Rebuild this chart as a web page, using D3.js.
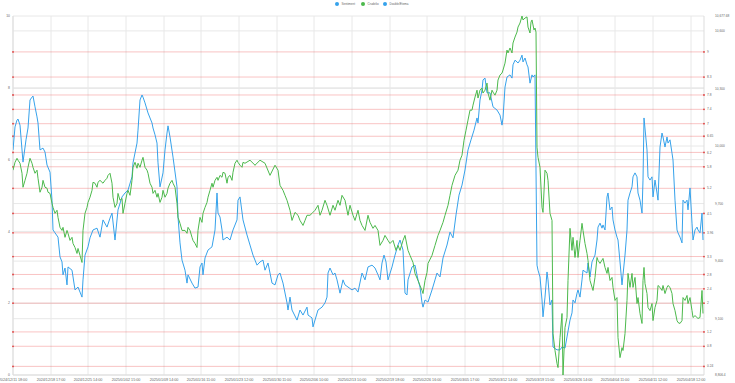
<!DOCTYPE html>
<html><head><meta charset="utf-8">
<script src="https://cdn.jsdelivr.net/npm/d3@7"></script>
<style>body{margin:0;background:#fff}svg{display:block;font-family:"Liberation Sans",Arial,sans-serif}</style>
</head><body><svg id="c" width="735" height="383"></svg>
<script>
const seriesNames = ["Sentiment", "Crudelio", "Double/Etema"];
const seriesColors = ["rgb(54,162,235)", "rgb(76,185,76)", "rgb(54,162,235)"];
const tickIdx = [0,38,75,113,151,188,226,264,301,339,377,414,452,490,527,565,602,640,678];
const tickLabels = ["2024/12/11 18:00","2024/12/18 17:00","2024/12/25 14:00","2025/01/02 15:00","2025/01/09 14:00","2025/01/16 11:00","2025/01/23 12:00","2025/01/30 11:00","2025/02/06 10:00","2025/02/13 10:00","2025/02/19 18:00","2025/02/26 16:00","2025/03/05 17:00","2025/03/12 14:00","2025/03/19 15:00","2025/03/26 14:00","2025/04/04 11:00","2025/04/11 12:00","2025/04/18 12:00"];
const leftTicks = [0,2,4,6,8,10];
const rightTicks = [9100,9400,9700,10000,10300,10600];
const rightMin = 8806.4, rightMax = 10677.68;
const rightEndLabels = ["8,806.4","10,677.68"];
const levels = [9,8.3,7.8,7.4,7,6.65,6.2,5.8,5.2,4.5,3.96,3.3,2.8,2.4,2,1.2,0.8,0.24];
const lastIdx = 691;

const sentiment = [[0,6.27],[2,6.91],[4,7.10],[5,7.13],[7,6.96],[10,5.93],[13,6.55],[15,6.88],[17,7.66],[19,7.74],[20,7.77],[22,7.47],[24,7.19],[25,7.02],[27,6.27],[30,6.32],[32,6.21],[34,5.85],[37,5.65],[39,4.87],[40,4.04],[42,3.96],[45,3.84],[47,3.29],[49,3.15],[50,2.79],[52,2.98],[54,2.51],[55,3.01],[59,2.92],[62,2.37],[65,2.45],[67,2.31],[69,2.17],[70,2.65],[72,3.34],[75,3.57],[77,3.82],[80,4.04],[84,4.09],[87,3.84],[90,4.32],[94,4.12],[97,4.37],[99,4.51],[102,3.76],[105,4.60],[109,4.96],[112,5.07],[115,5.15],[119,5.52],[120,5.91],[124,6.46],[125,6.82],[127,7.66],[129,7.80],[130,7.74],[132,7.58],[135,7.30],[139,7.02],[140,6.88],[142,6.69],[144,6.46],[145,5.91],[147,5.24],[150,5.63],[152,6.27],[154,6.74],[155,6.94],[157,6.63],[160,6.07],[164,5.24],[165,4.40],[167,3.68],[169,3.20],[172,2.92],[174,2.56],[175,2.79],[179,2.56],[182,2.42],[185,2.45],[187,3.01],[189,3.12],[190,2.79],[192,3.26],[195,3.48],[199,3.57],[202,4.04],[204,5.07],[205,4.51],[207,4.40],[209,4.04],[210,3.76],[214,3.84],[217,3.76],[220,4.04],[224,4.32],[225,4.87],[227,4.96],[230,4.32],[234,3.90],[237,3.62],[240,3.34],[244,3.06],[247,3.15],[250,3.20],[252,2.92],[255,3.12],[259,2.56],[262,2.51],[265,2.79],[267,2.84],[270,2.56],[274,2.01],[275,1.81],[277,2.17],[279,1.81],[284,1.53],[287,1.81],[290,1.67],[294,1.89],[295,1.67],[299,1.59],[300,1.34],[302,1.53],[305,1.81],[309,1.89],[312,2.01],[314,2.17],[315,2.84],[317,2.98],[320,2.79],[322,2.84],[324,2.65],[327,2.28],[330,2.65],[332,2.51],[335,2.45],[339,2.37],[342,2.42],[345,2.31],[349,2.84],[352,2.65],[355,3.01],[359,3.06],[362,2.98],[365,2.79],[367,2.65],[369,3.12],[371,3.34],[373,3.15],[375,2.65],[379,3.01],[382,3.34],[385,3.62],[387,3.76],[390,3.48],[392,2.28],[394,2.23],[395,2.65],[399,3.01],[402,3.06],[405,2.65],[407,2.45],[409,2.01],[410,1.89],[412,2.09],[415,2.03],[419,2.37],[422,2.65],[424,2.84],[427,2.73],[430,3.26],[434,3.62],[437,3.98],[440,3.82],[443,4.46],[446,5.01],[449,5.29],[452,5.71],[455,6.27],[458,6.55],[461,6.82],[464,7.16],[465,7.02],[467,7.66],[469,7.94],[470,8.22],[472,8.27],[474,7.86],[477,7.86],[480,7.47],[484,7.38],[487,7.24],[489,6.96],[490,7.16],[492,8.02],[494,8.30],[497,8.36],[499,8.27],[500,8.64],[502,8.77],[504,8.72],[505,8.69],[507,8.77],[509,8.91],[510,8.72],[512,8.83],[514,8.64],[515,8.58],[517,8.13],[519,8.36],[520,8.30],[522,8.36],[524,3.06],[525,2.92],[527,2.73],[529,2.09],[530,1.62],[532,2.17],[534,2.87],[535,2.65],[537,1.95],[539,2.09],[540,0.78],[544,0.70],[547,0.70],[549,0.78],[552,0.75],[554,1.06],[557,1.53],[559,1.73],[560,2.09],[562,2.01],[564,2.28],[565,2.37],[567,2.17],[569,2.65],[570,2.92],[574,2.84],[575,3.12],[577,2.73],[579,3.15],[582,3.34],[584,3.76],[585,4.12],[587,4.23],[589,4.09],[590,4.18],[592,4.04],[594,4.96],[595,5.07],[597,4.60],[599,4.68],[600,4.32],[602,4.04],[604,3.84],[605,3.76],[607,3.15],[609,2.51],[610,2.79],[612,3.34],[614,4.04],[615,4.87],[617,5.07],[619,5.24],[620,5.52],[622,5.63],[624,5.52],[625,5.07],[627,4.87],[629,4.51],[630,5.43],[631,7.16],[634,6.27],[635,5.52],[637,5.43],[639,5.52],[640,4.96],[642,5.43],[644,5.07],[645,4.87],[647,6.35],[649,6.74],[650,6.63],[652,6.35],[654,6.63],[655,6.46],[657,6.55],[659,6.18],[660,5.99],[662,4.87],[664,4.04],[665,3.96],[667,3.84],[669,3.68],[670,4.87],[672,4.79],[674,4.87],[675,4.60],[677,5.21],[679,4.23],[680,3.76],[682,4.04],[684,4.12],[685,4.04],[687,3.96],[689,4.51],[690,3.76]];

const crudelio = [[0,9874],[2,9915],[4,9936],[5,9926],[7,9910],[9,9858],[10,9785],[12,9821],[14,9858],[15,9889],[17,9936],[19,9910],[20,9889],[22,9858],[24,9874],[25,9832],[27,9759],[29,9785],[30,9821],[32,9785],[34,9780],[35,9759],[37,9753],[39,9701],[40,9680],[42,9649],[44,9665],[45,9628],[47,9576],[49,9560],[50,9576],[52,9524],[54,9560],[55,9545],[57,9508],[59,9524],[60,9492],[62,9471],[64,9440],[65,9466],[67,9430],[69,9393],[70,9560],[72,9649],[74,9680],[75,9706],[77,9733],[79,9769],[80,9811],[82,9806],[84,9785],[85,9811],[87,9821],[90,9806],[92,9821],[94,9832],[95,9847],[97,9858],[99,9806],[100,9733],[102,9680],[104,9701],[105,9753],[107,9717],[109,9727],[110,9649],[112,9701],[114,9753],[115,9769],[117,9743],[119,9821],[120,9889],[122,9915],[124,9884],[125,9910],[127,9889],[129,9926],[130,9941],[132,9889],[134,9874],[135,9858],[137,9806],[139,9785],[140,9753],[142,9769],[144,9733],[145,9753],[147,9706],[149,9733],[150,9769],[152,9733],[154,9753],[155,9780],[157,9806],[159,9821],[160,9806],[162,9785],[164,9701],[165,9628],[167,9597],[169,9560],[172,9560],[174,9545],[175,9576],[177,9560],[179,9524],[180,9508],[182,9492],[184,9471],[185,9560],[187,9628],[189,9602],[190,9649],[192,9680],[194,9706],[195,9733],[197,9769],[199,9806],[200,9785],[202,9821],[204,9837],[205,9821],[207,9847],[209,9837],[210,9863],[212,9858],[214,9806],[215,9837],[217,9847],[219,9821],[220,9863],[222,9910],[224,9926],[225,9915],[227,9900],[229,9889],[230,9915],[232,9910],[237,9926],[242,9900],[247,9926],[252,9910],[257,9847],[262,9900],[265,9874],[267,9795],[270,9769],[272,9743],[274,9717],[277,9665],[279,9612],[282,9654],[285,9639],[287,9612],[290,9586],[292,9612],[294,9639],[297,9639],[299,9649],[302,9665],[305,9691],[307,9639],[309,9665],[312,9717],[314,9691],[317,9639],[320,9691],[322,9665],[325,9717],[327,9691],[329,9743],[332,9717],[335,9639],[337,9691],[340,9639],[342,9612],[345,9665],[347,9612],[349,9586],[352,9560],[355,9639],[357,9602],[360,9571],[362,9586],[365,9560],[367,9482],[370,9508],[372,9534],[375,9508],[377,9492],[380,9508],[383,9456],[385,9482],[387,9456],[390,9508],[392,9534],[395,9456],[397,9430],[400,9393],[402,9336],[405,9299],[407,9273],[409,9247],[410,9231],[412,9299],[414,9341],[415,9388],[419,9430],[422,9482],[425,9534],[427,9560],[430,9602],[432,9639],[435,9691],[437,9743],[439,9795],[442,9847],[445,9874],[447,9926],[449,9952],[451,10030],[453,10082],[455,10135],[457,10187],[459,10187],[460,10213],[462,10255],[464,10291],[465,10250],[467,10291],[469,10302],[470,10276],[472,10291],[474,10328],[475,10276],[477,10239],[479,10291],[480,10281],[482,10265],[484,10291],[485,10344],[487,10370],[489,10380],[490,10396],[492,10432],[494,10500],[495,10485],[497,10511],[499,10485],[500,10537],[502,10568],[504,10594],[505,10620],[507,10641],[509,10677.68],[510,10657],[512,10667],[514,10673],[515,10620],[517,10589],[518,10646],[519,10657],[520,10631],[521,10605],[522,10615],[523,10594],[524,9994],[525,9941],[527,9889],[529,9680],[530,9654],[532,9874],[534,9858],[535,9821],[537,9649],[539,9612],[540,9022],[542,8934],[544,8866],[545,8845],[547,9001],[549,9127],[550,8806.4],[552,9054],[554,9106],[555,9299],[557,9571],[559,9456],[560,9524],[562,9419],[564,9508],[565,9419],[567,9508],[569,9597],[570,9560],[572,9492],[574,9440],[575,9404],[577,9299],[580,9247],[582,9315],[584,9419],[585,9404],[587,9388],[590,9414],[592,9367],[594,9336],[595,9367],[597,9299],[599,9315],[600,9263],[602,9195],[604,9210],[605,9001],[607,8897],[609,8949],[610,8934],[612,9022],[614,9195],[615,9336],[617,9263],[619,9336],[620,9263],[622,9315],[624,9179],[625,9210],[627,9127],[629,9075],[630,9299],[631,9367],[632,9283],[634,9231],[635,9158],[637,9142],[639,9179],[640,9090],[642,9158],[644,9195],[645,9273],[647,9263],[649,9247],[650,9273],[652,9231],[654,9263],[655,9273],[657,9263],[659,9231],[660,9179],[662,9142],[664,9090],[665,9080],[667,9075],[669,9090],[670,9210],[672,9195],[674,9221],[675,9179],[677,9210],[679,9142],[680,9106],[682,9116],[684,9106],[685,9101],[687,9106],[689,9247],[690,9127]];

const svg = d3.select("#c");
const L = 13, R = 704, T = 16, B = 375;
const x = d3.scaleLinear().domain([0, lastIdx]).range([L, R]);
const yL = d3.scaleLinear().domain([0, 10]).range([B, T]);
const yR = d3.scaleLinear().domain([rightMin, rightMax]).range([B, T]);
const grid = "#e8e8e8", txt = "#666";

const g = svg.append("g");
g.selectAll(".vg").data(tickIdx).join("line")
  .attr("x1", d => x(d)).attr("x2", d => x(d)).attr("y1", T).attr("y2", B)
  .attr("stroke", grid).attr("stroke-width", 1);
g.selectAll(".lg").data(leftTicks).join("line")
  .attr("x1", L).attr("x2", R).attr("y1", d => yL(d)).attr("y2", d => yL(d))
  .attr("stroke", grid).attr("stroke-width", 1);
g.selectAll(".rg").data(rightTicks).join("line")
  .attr("x1", L).attr("x2", R).attr("y1", d => yR(d)).attr("y2", d => yR(d))
  .attr("stroke", grid).attr("stroke-width", 1);
g.append("line").attr("x1", L).attr("x2", L).attr("y1", T).attr("y2", B).attr("stroke", "#ddd");
g.append("line").attr("x1", R).attr("x2", R).attr("y1", T).attr("y2", B).attr("stroke", "#ddd");
g.append("line").attr("x1", L).attr("x2", R).attr("y1", B).attr("y2", B).attr("stroke", "#ddd");

const lv = svg.append("g");
lv.selectAll("line").data(levels).join("line")
  .attr("x1", L).attr("x2", R).attr("y1", d => yL(d)).attr("y2", d => yL(d))
  .attr("stroke", "rgba(240,100,100,0.38)").attr("stroke-width", 1);
lv.selectAll(".dl").data(levels).join("circle").attr("class","dl")
  .attr("cx", L).attr("cy", d => yL(d)).attr("r", 0.9).attr("fill", "#e04040");
lv.selectAll(".dr").data(levels).join("circle").attr("class","dr")
  .attr("cx", R).attr("cy", d => yL(d)).attr("r", 0.9).attr("fill", "#e04040");
lv.selectAll("text").data(levels).join("text")
  .attr("x", R + 3).attr("y", d => yL(d) + 1.1).attr("font-size", 3.2).attr("fill", txt)
  .text(d => String(d));

svg.append("clipPath").attr("id", "pc").append("rect")
  .attr("x", L).attr("y", T - 1).attr("width", R - L).attr("height", B - T + 2);
const lineL = d3.line().x(d => x(d[0])).y(d => yL(d[1]));
const lineR = d3.line().x(d => x(d[0])).y(d => yR(d[1]));
const pl = svg.append("g").attr("clip-path", "url(#pc)");
pl.append("path").datum(sentiment).attr("d", lineL).attr("fill", "none")
  .attr("stroke", seriesColors[0]).attr("stroke-width", 1);
pl.append("path").datum(crudelio).attr("d", lineR).attr("fill", "none")
  .attr("stroke", seriesColors[1]).attr("stroke-width", 1);

svg.append("g").selectAll("text").data(leftTicks).join("text")
  .attr("x", L - 3).attr("y", d => yL(d) + 1.2).attr("text-anchor", "end")
  .attr("font-size", 3.4).attr("fill", txt).text(d => d);
const rAll = [rightMin, ...rightTicks, rightMax];
const fmt = d3.format(",");
svg.append("g").selectAll("text").data(rAll).join("text")
  .attr("x", 715).attr("y", d => yR(d) + 1.2)
  .attr("font-size", 3.2).attr("fill", txt)
  .text(d => d === rightMin ? rightEndLabels[0] : d === rightMax ? rightEndLabels[1] : fmt(d));
svg.append("g").selectAll("text").data(tickIdx).join("text")
  .attr("x", d => x(d)).attr("y", 380.5).attr("text-anchor", "middle")
  .attr("font-size", 3.7).attr("fill", txt).text((d, i) => tickLabels[i]);

const legX = [337, 363, 385];
const lg = svg.append("g");
seriesNames.forEach((n, i) => {
  lg.append("circle").attr("cx", legX[i]).attr("cy", 4).attr("r", 2).attr("fill", seriesColors[i]);
  lg.append("text").attr("x", legX[i] + 4.5).attr("y", 5).attr("font-size", 3).attr("fill", txt).text(n);
});
</script></body></html>
